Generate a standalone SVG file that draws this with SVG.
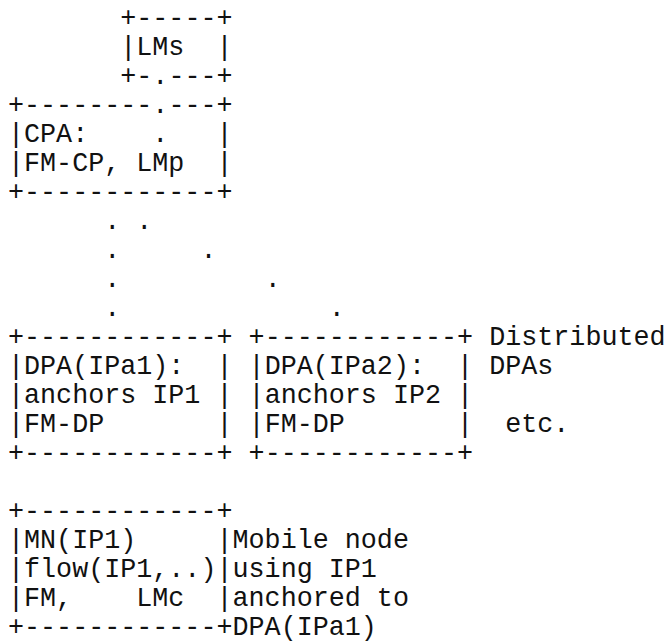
<svg xmlns="http://www.w3.org/2000/svg" width="669" height="644" viewBox="0 0 669 644">
<style>
text{font-family:"Liberation Mono","Courier New",monospace;font-size:26.73px;fill:#111;white-space:pre}
</style>
<rect width="669" height="644" fill="#fff"/>
<g id="lms" xml:space="preserve">
<text x="120.28" y="26">+-----+</text>
<text x="120.28" y="55">|LMs  |</text>
<text x="120.28" y="84">+-</text>
<text x="168.4" y="84">---+</text>
</g>
<g id="cpa" xml:space="preserve">
<text x="8" y="113">+--------</text>
<text x="168.4" y="113">---+</text>
<text x="8" y="142">|CPA:</text>
<text x="216.52" y="142">|</text>
<text x="8" y="171">|FM-CP, LMp  |</text>
<text x="8" y="200">+------------+</text>
</g>
<g id="connectors">
<text x="152.36" y="84">.</text>
<text x="152.36" y="113">.</text>
<text x="152.36" y="142">.</text>
<text x="104.24" y="229">.</text>
<text x="136.32" y="229">.</text>
<text x="104.24" y="258">.</text>
<text x="200.48" y="258">.</text>
<text x="104.24" y="287">.</text>
<text x="264.64" y="287">.</text>
<text x="104.24" y="316">.</text>
<text x="328.8" y="316">.</text>
</g>
<g id="dpa1" xml:space="preserve">
<text x="8" y="345">+------------+</text>
<text x="8" y="374">|DPA(IPa1):  |</text>
<text x="8" y="403">|anchors IP1 |</text>
<text x="8" y="432">|FM-DP       |</text>
<text x="8" y="461">+------------+</text>
</g>
<g id="dpa2" xml:space="preserve">
<text x="248.6" y="345">+------------+</text>
<text x="248.6" y="374">|DPA(IPa2):  |</text>
<text x="248.6" y="403">|anchors IP2 |</text>
<text x="248.6" y="432">|FM-DP       |</text>
<text x="248.6" y="461">+------------+</text>
</g>
<g id="dpas-label">
<text x="489.2" y="345">Distributed</text>
<text x="489.2" y="374">DPAs</text>
<text x="505.24" y="432">etc.</text>
</g>
<g id="mn" xml:space="preserve">
<text x="8" y="519">+------------+</text>
<text x="8" y="548">|MN(IP1)     |</text>
<text x="8" y="577">|flow(IP1,..)|</text>
<text x="8" y="606">|FM,    LMc  |</text>
<text x="8" y="635">+------------+</text>
</g>
<g id="mn-label">
<text x="232.56" y="548">Mobile node</text>
<text x="232.56" y="577">using IP1</text>
<text x="232.56" y="606">anchored to</text>
<text x="232.56" y="635">DPA(IPa1)</text>
</g>
</svg>
